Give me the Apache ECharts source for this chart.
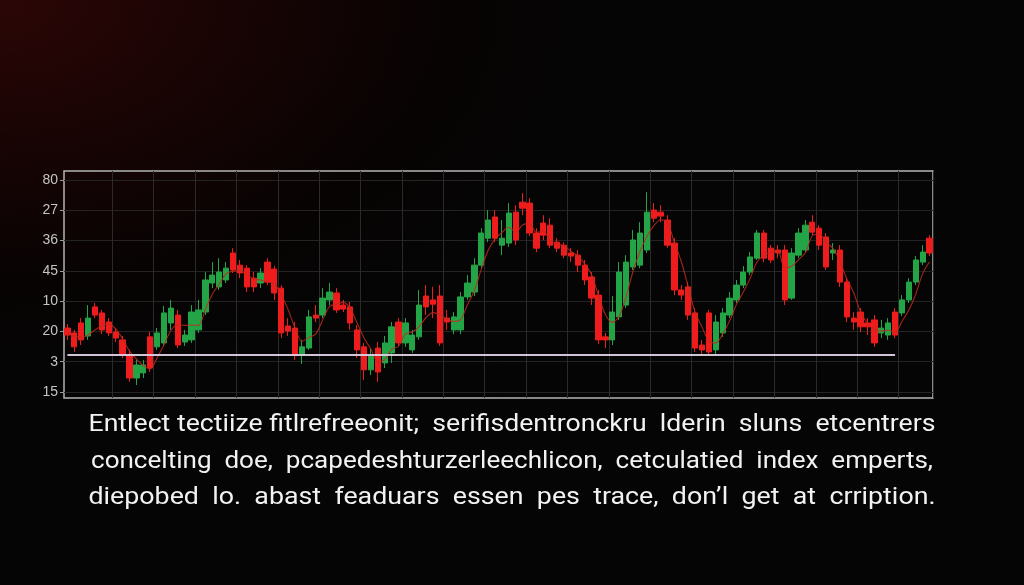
<!DOCTYPE html>
<html>
<head>
<meta charset="utf-8">
<script src="https://cdn.jsdelivr.net/npm/echarts@6/dist/echarts.min.js"></script>
<style>
html,body{margin:0;padding:0;width:1024px;height:585px;overflow:hidden;}
body{background:radial-gradient(ellipse 60% 65% at 0% 0%, #2c0606 0%, #170404 40%, #070303 75%, #050505 100%);}
#chart{width:1024px;height:585px;}
</style>
</head>
<body>
<div id="chart"></div>
<script>
// ---- data ----
const yTickValues = [0, 10, 20, 30, 40, 50, 60, 70];
const yTickLabels = ['15', '3', '20', '10', '45', '36', '27', '80'];

// [open, close, low, high]
const candles = [
  [21.1,18.8,17.2,22.4],[19.5,14.9,13.2,20.5],[22.8,17.2,15.5,24.4],[18.5,24.4,17.2,28.7],[28.1,25.4,24.4,29.4],
  [26.1,20.5,19.1,27.1],[23.1,19.5,18.5,24.4],[19.8,17.8,16.5,21.1],[17.2,12.2,11.2,18.5],[12.2,4.6,3.3,13.9],
  [4.6,8.9,2.3,10.6],[6.3,8.9,4.6,10.6],[18.2,7.9,6.6,19.8],[14.9,19.5,13.9,21.1],[16.2,26.1,15.2,28.4],
  [22.8,27.7,20.5,30.4],[25.4,15.5,14.5,27.1],[16.5,18.8,15.2,20.5],[17.2,26.4,16.2,28.7],[20.5,27.1,19.5,30.4],
  [26.4,37.0,25.4,39.6],[36.0,38.6,34.3,42.9],[34.7,39.6,33.7,44.2],[37.0,40.9,36.0,42.9],[45.9,40.3,39.3,47.5],
  [41.9,39.3,37.6,43.6],[40.9,34.7,33.0,41.9],[37.6,34.7,33.0,39.6],[36.0,39.3,34.3,40.9],[42.9,36.3,35.3,44.2],
  [40.6,32.7,30.4,41.6],[34.3,19.5,17.8,35.3],[21.8,20.1,18.5,24.4],[21.1,12.2,10.6,23.1],[12.2,14.9,9.2,17.2],
  [14.5,24.8,13.9,27.1],[25.4,24.4,23.1,28.7],[25.4,31.0,24.4,34.3],[30.4,33.0,28.7,36.0],[32.7,27.1,26.1,34.3],
  [28.7,27.4,26.4,30.4],[28.1,22.8,20.5,29.7],[20.5,13.9,11.2,22.1],[14.9,7.3,4.0,16.2],[7.3,12.2,5.6,14.5],
  [14.5,6.6,3.3,16.5],[9.6,16.2,7.9,18.5],[12.9,21.5,9.6,23.1],[23.1,16.2,15.2,24.4],[16.2,22.8,14.9,24.4],
  [13.9,18.8,12.9,20.5],[18.2,28.7,17.2,33.7],[31.7,28.1,25.4,35.3],[30.4,29.0,24.4,34.7],[31.7,16.2,15.2,35.3],
  [24.4,23.1,20.5,27.1],[20.5,24.8,19.1,26.4],[20.5,31.4,19.1,33.0],[31.4,36.0,30.4,38.6],[33.0,41.9,31.7,44.2],
  [41.9,52.5,40.9,54.1],[50.8,56.8,49.5,60.1],[57.8,50.8,49.5,60.1],[48.5,50.8,45.2,56.8],[49.2,59.1,47.9,62.4],
  [59.4,50.2,48.5,61.7],[62.7,60.7,58.4,65.7],[62.4,52.5,51.5,64.0],[52.5,47.5,46.2,54.1],[55.8,51.8,50.2,58.4],
  [55.1,48.5,47.5,57.4],[49.5,47.5,46.2,50.8],[48.5,45.2,44.2,49.5],[45.9,44.9,42.9,47.5],[45.2,41.9,39.6,46.9],
  [41.9,37.0,35.3,43.6],[38.0,31.0,28.7,39.6],[32.0,17.2,15.8,33.7],[18.2,17.2,14.5,19.5],[17.2,26.4,15.5,31.7],
  [24.8,39.6,23.8,42.9],[28.7,42.9,27.7,45.2],[41.3,50.2,40.3,53.5],[41.9,52.5,40.9,56.1],[46.9,59.4,45.9,66.0],
  [60.1,57.4,56.1,62.4],[59.4,58.1,56.1,61.7],[56.8,48.5,47.5,58.4],[49.2,33.7,32.0,50.8],[33.7,32.0,30.4,35.3],
  [34.7,25.4,23.8,36.3],[26.1,14.5,13.2,27.7],[15.5,13.9,12.2,17.2],[26.1,13.2,11.9,27.1],[13.9,23.1,12.5,25.4],
  [19.5,26.1,18.2,27.7],[25.4,31.0,24.4,33.0],[30.4,35.3,29.4,37.0],[35.3,39.6,34.3,41.6],[39.6,44.6,38.6,46.2],
  [44.2,52.5,43.6,53.5],[52.5,44.2,42.9,53.5],[47.5,43.6,42.6,48.5],[46.9,45.9,44.2,48.5],[46.9,30.4,28.7,48.5],
  [31.0,45.9,30.4,47.5],[45.2,52.5,44.2,54.1],[46.9,55.1,46.2,56.8],[56.1,52.8,51.8,58.4],[54.1,48.5,46.9,55.1],
  [51.2,41.3,40.3,52.5],[45.9,46.9,43.6,49.2],[46.9,36.3,34.7,48.5],[36.3,24.8,23.1,37.6],[24.4,23.1,20.5,26.4],
  [26.4,21.5,19.8,27.7],[22.8,21.5,18.8,24.4],[23.8,16.2,14.9,25.4],[19.5,21.1,17.8,23.8],[18.8,22.8,17.2,24.4],
  [26.4,18.8,17.8,27.7],[26.1,30.4,25.1,32.0],[30.4,36.3,29.4,37.6],[36.3,43.6,35.3,44.9],[42.9,46.2,41.9,48.5],
  [50.8,45.9,44.9,51.8]
];

// thin red average line
const avgLine = [
  19.5,18.5,18.0,18.8,20.5,21.9,22.5,20.8,17.5,13.5,
  10.9,8.7,7.6,11.3,15.6,20.3,22.2,22.0,22.1,22.0,
  27.3,32.3,35.6,39.0,39.9,40.0,38.8,37.3,37.0,36.3,
  35.8,32.0,27.2,21.1,16.7,18.0,19.1,23.8,28.3,28.9,
  29.6,27.6,22.8,17.9,14.1,10.0,10.6,14.1,15.1,19.2,
  19.8,21.6,24.6,26.2,25.5,24.1,23.3,23.9,28.8,33.5,
  40.5,46.8,50.5,52.7,54.4,52.7,55.2,55.6,52.7,53.1,
  50.1,48.8,48.3,46.5,44.9,42.3,38.7,31.8,25.6,23.0,
  25.1,31.5,39.8,46.3,51.3,54.9,56.9,55.9,49.4,43.1,
  34.9,26.4,21.5,16.8,16.2,19.1,23.4,28.9,33.0,37.6,
  43.0,45.2,46.2,46.6,41.0,41.5,43.7,46.0,51.6,52.2,
  49.4,47.4,43.3,37.3,32.8,26.4,22.7,20.6,20.1,20.4,
  19.7,23.3,27.1,32.3,39.1,43.0
];

const categories = candles.map((_, i) => 'T' + (i + 1));
const supportLevel = 12.2;
const supportStart = 0;
const supportEnd = 120;

const captionLines = [
  'Entlect tectiize fitlrefreeonit;  serifisdentronckru  lderin  sluns  etcentrers',
  'concelting  doe,  pcapedeshturzerleechlicon,  cetculatied  index  emperts,',
  'diepobed  lo.  abast  feaduars  essen  pes  trace,  don\u2019l  get  at  crription.'
];

// ---- chart ----
const chart = echarts.init(document.getElementById('chart'), null, {renderer: 'canvas'});
const UP = '#23a446', DOWN = '#ee1c1c';
const captionFont = '400 23px Roboto, sans-serif';
const targetWidths = [847, 842, 847];
const captionY = [425, 462, 498];

function measure(t) {
  const c = document.createElement('canvas').getContext('2d');
  c.font = captionFont;
  return c.measureText(t).width;
}

chart.setOption({
  backgroundColor: 'transparent',
  animation: false,
  grid: {
    left: 64, top: 171, width: 869, height: 227,
    show: true, borderColor: '#b4b4b4', borderWidth: 1.5, backgroundColor: 'transparent'
  },
  xAxis: {
    type: 'category',
    data: categories,
    boundaryGap: true,
    axisLine: {show: false},
    axisTick: {show: false},
    axisLabel: {show: false},
    splitLine: {
      show: true,
      interval: function (index) { return index >= 7 && (index - 7) % 6 === 0; },
      lineStyle: {color: '#2a2a2a', width: 1}
    }
  },
  yAxis: {
    type: 'value',
    min: -2, max: 73,
    axisLine: {show: false},
    axisTick: {show: true, customValues: yTickValues, length: 4, lineStyle: {color: '#9a9a9a'}},
    axisLabel: {
      customValues: yTickValues,
      formatter: function (v) { const k = yTickValues.indexOf(Math.round(v)); return k >= 0 ? yTickLabels[k] : ''; },
      color: '#c4c4c4', fontSize: 14, fontFamily: 'Liberation Sans, Arial, sans-serif', margin: 6
    },
    splitLine: {show: true, lineStyle: {color: '#242424', width: 1}}
  },
  series: [
    {
      type: 'candlestick',
      data: candles,
      barWidth: '84%',
      itemStyle: {
        color: UP, color0: DOWN, borderColor: UP, borderColor0: DOWN, borderColorDoji: DOWN, borderWidth: 1
      },
      markLine: {
        silent: true,
        symbol: ['none', 'none'],
        label: {show: false},
        lineStyle: {color: '#dccfe0', width: 2, type: 'solid', opacity: 0.95},
        data: [[{coord: [supportStart, supportLevel]}, {coord: [supportEnd, supportLevel]}]]
      },
      z: 2
    },
    {
      type: 'line',
      data: avgLine,
      showSymbol: false,
      smooth: 0.3,
      lineStyle: {color: '#c22a1c', width: 1.1, opacity: 0.85},
      z: 3
    }
  ],
  graphic: captionLines.map((t, i) => ({
    type: 'text',
    x: 512,
    y: captionY[i],
    scaleX: targetWidths[i] / measure(t),
    style: {
      x: 0, y: 0,
      text: t,
      fill: '#f2f2f2',
      font: captionFont,
      textAlign: 'center',
      textVerticalAlign: 'middle'
    }
  }))
});
</script>
</body>
</html>
